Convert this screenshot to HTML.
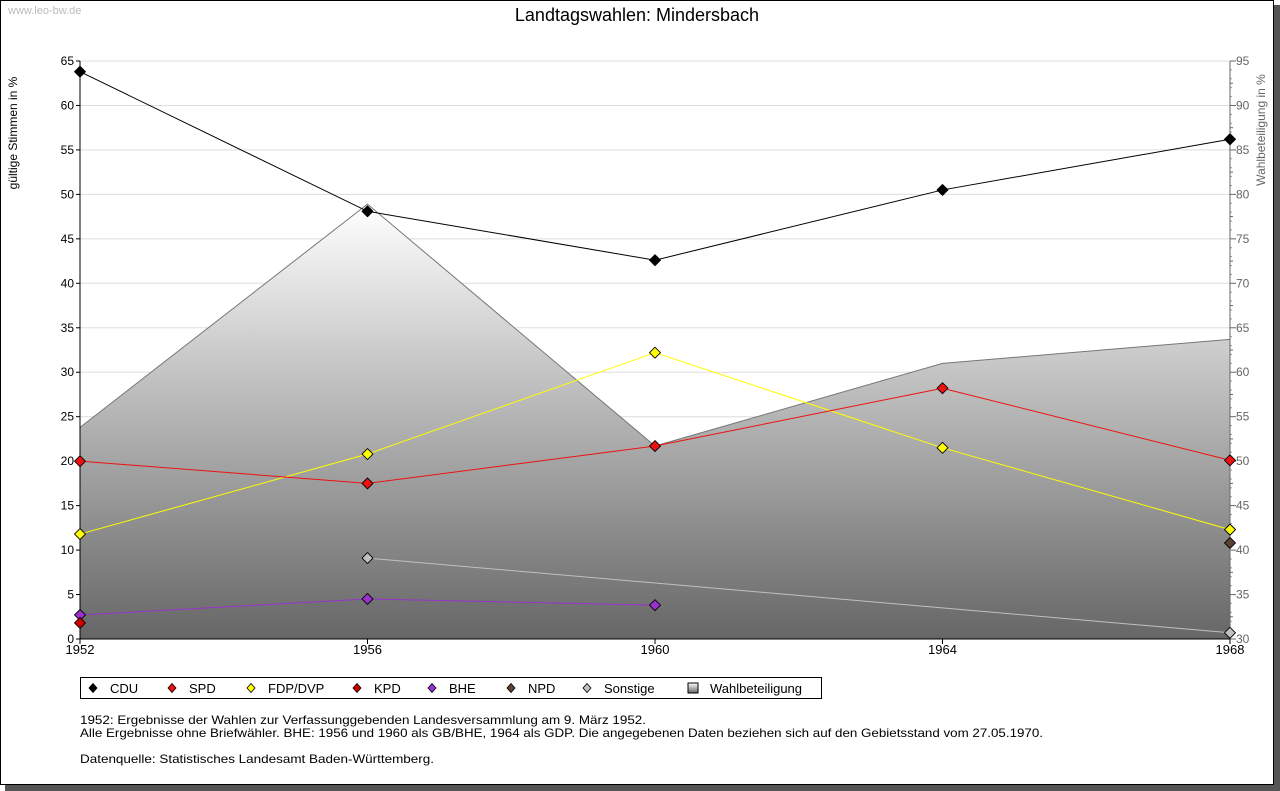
<!DOCTYPE html>
<html><head><meta charset="utf-8"><style>
body{margin:0;background:#fff;}
svg{display:block;font-family:"Liberation Sans","DejaVu Sans",sans-serif;}
</style></head><body>
<svg id="chart" width="1280" height="791" xmlns="http://www.w3.org/2000/svg">
<defs>
<linearGradient id="ag" x1="0" y1="204" x2="0" y2="639" gradientUnits="userSpaceOnUse">
<stop offset="0" stop-color="#ffffff"/><stop offset="1" stop-color="#666666"/>
</linearGradient>
<linearGradient id="lg" x1="0" y1="0" x2="0" y2="1"><stop offset="0" stop-color="#fff"/><stop offset="1" stop-color="#666"/></linearGradient>
</defs>
<rect x="5" y="785" width="1275" height="6" fill="#555"/>
<rect x="1274" y="5" width="6" height="786" fill="#555"/>
<rect x="0.5" y="0.5" width="1273" height="784" fill="#fff" stroke="#000"/>
<text x="8" y="14" font-size="11" fill="#bbb">www.leo-bw.de</text>
<text x="637" y="21" font-size="18" text-anchor="middle" fill="#000">Landtagswahlen: Mindersbach</text>
<g id="grid"></g>
<g id="area"></g>
<g id="axes"></g>
<g id="series"></g>
<text transform="translate(17,133) rotate(-90)" font-size="12" text-anchor="middle">gültige Stimmen in %</text>
<text transform="translate(1265,130) rotate(-90)" font-size="12" text-anchor="middle" fill="#666">Wahlbeteiligung in %</text>
<g id="legend"></g>
<text x="80" y="724" font-size="12" textLength="566" lengthAdjust="spacingAndGlyphs">1952: Ergebnisse der Wahlen zur Verfassunggebenden Landesversammlung am 9. März 1952.</text>
<text x="80" y="737" font-size="12" textLength="963" lengthAdjust="spacingAndGlyphs">Alle Ergebnisse ohne Briefwähler. BHE: 1956 und 1960 als GB/BHE, 1964 als GDP. Die angegebenen Daten beziehen sich auf den Gebietsstand vom 27.05.1970.</text>
<text x="80" y="763" font-size="12" textLength="354" lengthAdjust="spacingAndGlyphs">Datenquelle: Statistisches Landesamt Baden-Württemberg.</text>
</svg>
<script>
const years=[1952,1956,1960,1964,1968];
const cdu=[63.8,48.1,42.6,50.5,56.2];
const spd=[20.0,17.5,21.7,28.2,20.1];
const fdp=[11.8,20.8,32.2,21.5,12.3];
const kpd=[1.8,null,null,null,null];
const bhe=[2.7,4.5,3.8,null,null];
const npd=[null,null,null,null,10.8];
const sonstige=[null,9.1,null,null,0.7];
const turnout=[53.8,78.9,51.7,61.0,63.7];
const leftTicks=[0,5,10,15,20,25,30,35,40,45,50,55,60,65];
const rightTicks=[30,35,40,45,50,55,60,65,70,75,80,85,90,95];
const NS="http://www.w3.org/2000/svg";
const X0=80,X1=1230,Y0=639,Y1=61;
const xs=y=>X0+(y-1952)/(1968-1952)*(X1-X0);
const yl=v=>Y0-v/65*(Y0-Y1);
const yr=v=>Y0-(v-30)/65*(Y0-Y1);
function mk(tag,at,parent){const e=document.createElementNS(NS,tag);for(const k in at)e.setAttribute(k,at[k]);parent.appendChild(e);return e;}
const grid=document.getElementById('grid'),axes=document.getElementById('axes'),area=document.getElementById('area'),ser=document.getElementById('series'),leg=document.getElementById('legend');
leftTicks.forEach(t=>{
 if(t>0){const g=mk('line',{x1:X0,x2:X1,y1:yl(t),y2:yl(t),stroke:'#ddd'},grid);
 
 }
 const tx=mk('text',{x:X0-6,y:yl(t)+4,'font-size':12,'text-anchor':'end'},axes);tx.textContent=t;
 
 
 mk('line',{x1:X0-4,x2:X0,y1:yl(t),y2:yl(t),stroke:'#000'},axes);
});
rightTicks.forEach(t=>{
 const tx=mk('text',{x:X1+6,y:yr(t)+4,'font-size':12,fill:'#666'},axes);tx.textContent=t;
 
 
 mk('line',{x1:X1,x2:X1+6,y1:yr(t),y2:yr(t),stroke:'#666'},axes);
 if(t<95){mk('line',{x1:X1,x2:X1+3,y1:yr(t+2.5),y2:yr(t+2.5),stroke:'#666'},axes);
 for(let m=1;m<5;m++)mk('line',{x1:X1,x2:X1+2,y1:yr(t+m),y2:yr(t+m),stroke:'#999'},axes);}
});
let d='M'+xs(years[0])+','+Y0;
years.forEach((y,i)=>d+=' L'+xs(y)+','+yr(turnout[i]));
d+=' L'+xs(years[years.length-1])+','+Y0+' Z';
const ar=mk('path',{d:d,fill:'url(#ag)'},area);


const al=mk('polyline',{points:years.map((y,i)=>xs(y)+','+yr(turnout[i])).join(' '),fill:'none',stroke:'#777'},area);


mk('line',{x1:X0,x2:X0,y1:Y1,y2:Y0,stroke:'#000'},axes);
mk('line',{x1:X1,x2:X1,y1:Y1,y2:Y0,stroke:'#666'},axes);
mk('line',{x1:X0,x2:X1,y1:Y0,y2:Y0,stroke:'#000'},axes);
years.forEach(y=>{mk('line',{x1:xs(y),x2:xs(y),y1:Y0,y2:Y0+5,stroke:'#000'},axes);
 const tx=mk('text',{x:xs(y),y:Y0+15,'font-size':13,'text-anchor':'middle'},axes);tx.textContent=y;
 
 });
function series(vals,color,name){
 const pts=[];vals.forEach((v,i)=>{if(v!==null)pts.push([xs(years[i]),yl(v)]);});
 if(pts.length>1){const l=mk('polyline',{points:pts.map(p=>p.join(',')).join(' '),fill:'none',stroke:color},ser);
 
 }
 pts.forEach(p=>{const m=mk('path',{d:`M${p[0]},${p[1]-5.5} L${p[0]+5.5},${p[1]} L${p[0]},${p[1]+5.5} L${p[0]-5.5},${p[1]} Z`,fill:color,stroke:'#000','stroke-width':0.9,'stroke-linejoin':'round'},ser);
 
 });
}
series(sonstige,'#c0c0c0','sonstige');
series(bhe,'#9932cc','bhe');
series(kpd,'#cc0000','kpd');
series(npd,'#5c4033','npd');
series(fdp,'#ffff00','fdp-dvp');
series(spd,'#ee1111','spd');
series(cdu,'#000000','cdu');
mk('rect',{x:80.5,y:677.5,width:741,height:21,fill:'#fff',stroke:'#000'},leg);
const items=[['CDU','#000',93],['SPD','#ee1111',172],['FDP/DVP','#ffff00',251],['KPD','#cc0000',357],['BHE','#9932cc',432],['NPD','#5c4033',511],['Sonstige','#c0c0c0',587],['Wahlbeteiligung',null,693]];
items.forEach(it=>{const g=mk('g',{},leg);
 
 
 const x=it[2],y=688;
 if(it[1])mk('path',{d:`M${x},${y-4.5} L${x+4},${y} L${x},${y+4.5} L${x-4},${y} Z`,fill:it[1],stroke:'#000','stroke-width':0.8},g);
 else mk('rect',{x:x-5,y:y-5,width:10,height:10,fill:'url(#lg)',stroke:'#000'},g);
 const t=mk('text',{x:x+17,y:y+5,'font-size':13},g);t.textContent=it[0];});
</script>
</body></html>
